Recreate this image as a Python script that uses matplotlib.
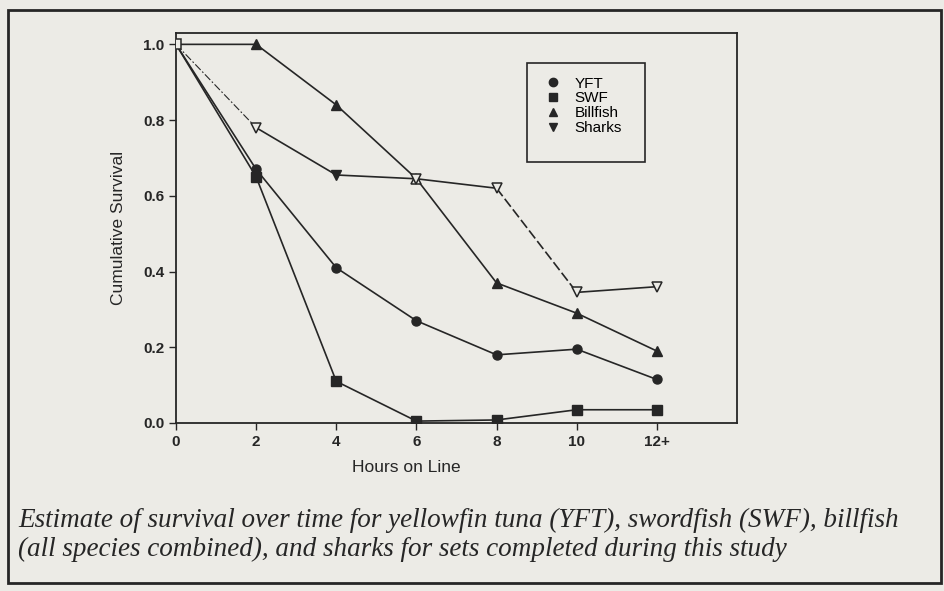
import numpy as np
import matplotlib
matplotlib.use('Agg')
import matplotlib.pyplot as plt
from matplotlib.patches import Rectangle
from matplotlib.lines import Line2D

hours = [0, 2, 4, 6, 8, 10, 12]
hour_labels = ['0', '2', '4', '6', '8', '10', '12+']

yft = [1.0, 0.67, 0.41, 0.27, 0.18, 0.195, 0.115]
swf = [1.0, 0.65, 0.11, 0.005, 0.008, 0.035, 0.035]
billfish = [1.0, 1.0, 0.84, 0.645, 0.37, 0.29, 0.19]
sharks = [1.0, 0.78, 0.655, 0.645, 0.62, 0.345, 0.36]

caption = ("Estimate of survival over time for yellowfin tuna (YFT), swordfish (SWF), billfish\n"
           "(all species combined), and sharks for sets completed during this study")

ink = '#262626'
paper = '#ecebe6'

plt.rcParams['font.family'] = ['Liberation Sans', 'DejaVu Sans']

fig = plt.figure(figsize=(9.45, 5.91), dpi=100, facecolor=paper)
ax = fig.add_axes([176/945, 1 - 423/591, 561/945, 390/591])
ax.set_facecolor(paper)

# series: values, marker, indices drawn filled, indices drawn open
series = [
    ('YFT', yft, 'o', [1, 2, 3, 4, 5, 6], []),
    ('Billfish', billfish, '^', [1, 2, 4, 5, 6], [3]),
    ('Sharks', sharks, 'v', [2], [1, 3, 4, 5, 6]),
    ('SWF', swf, 's', [1, 2, 3, 4, 5, 6], [0]),
]

x = np.array(hours)
for name, vals, mk, filled, hollow in series:
    v = np.array(vals)
    if name == 'Sharks':
        styles = [(0, (7, 2, 1.5, 2)), '-', '-', '-', (0, (6, 2)), '-']
        for i in range(len(x) - 1):
            lw = 0.8 if i == 0 else 1.2
            ax.plot(x[i:i+2], v[i:i+2], color=ink, lw=lw, ls=styles[i], zorder=2)
    else:
        ax.plot(x, v, color=ink, lw=1.2, zorder=2)
    ax.plot(x[filled], v[filled], ls='none', marker=mk, ms=6.5, color=ink, zorder=3)
    if hollow:
        ax.plot(x[hollow], v[hollow], ls='none', marker=mk, ms=6.5, mfc=paper,
                mec=ink, mew=1.1, zorder=4)

ax.set_xlim(0, 14)
ax.set_ylim(0, 1.03)
ax.set_xticks(hours)
ax.set_xticklabels(hour_labels)
ax.set_yticks([0.0, 0.2, 0.4, 0.6, 0.8, 1.0])
ax.set_yticklabels(['0.0', '0.2', '0.4', '0.6', '0.8', '1.0'])
ax.tick_params(colors=ink, labelsize=11, width=1, length=5)
for lab in ax.get_xticklabels() + ax.get_yticklabels():
    lab.set_fontweight('bold')
for sp in ax.spines.values():
    sp.set_color(ink)
    sp.set_linewidth(1.3)

ax.set_ylabel('Cumulative Survival', fontsize=12.5, color=ink, labelpad=12)
ax.set_xlabel('Hours on Line', fontsize=12.5, color=ink)
ax.xaxis.set_label_coords(0.41, -0.095)

# legend with markers only
handles = [Line2D([], [], ls='none', marker='o', ms=6, color=ink),
           Line2D([], [], ls='none', marker='s', ms=6, color=ink),
           Line2D([], [], ls='none', marker='^', ms=6, color=ink),
           Line2D([], [], ls='none', marker='v', ms=6, color=ink)]
ax.legend(handles, ['YFT', 'SWF', 'Billfish', 'Sharks'], loc='upper left',
          bbox_to_anchor=(0.655, 0.888), frameon=False, fontsize=11,
          handletextpad=0.85, labelspacing=0.05, handlelength=1.2,
          borderaxespad=0, borderpad=0)
ax.add_patch(Rectangle((0.626, 0.669), 0.21, 0.254, transform=ax.transAxes,
                       fill=False, ec=ink, lw=1.2, zorder=5))

# page frame and caption
fig.add_artist(Rectangle((8/945, 1 - 583/591), 933/945, 573/591,
                         transform=fig.transFigure, fill=False, ec=ink, lw=2))
fig.text(18/945, 1 - 535/591, caption, fontsize=19.5, style='italic',
         family=['Liberation Serif', 'DejaVu Serif'], color=ink,
         va='center', ha='left', linespacing=1.2)

fig.savefig('out.png', dpi=100, facecolor=paper)
